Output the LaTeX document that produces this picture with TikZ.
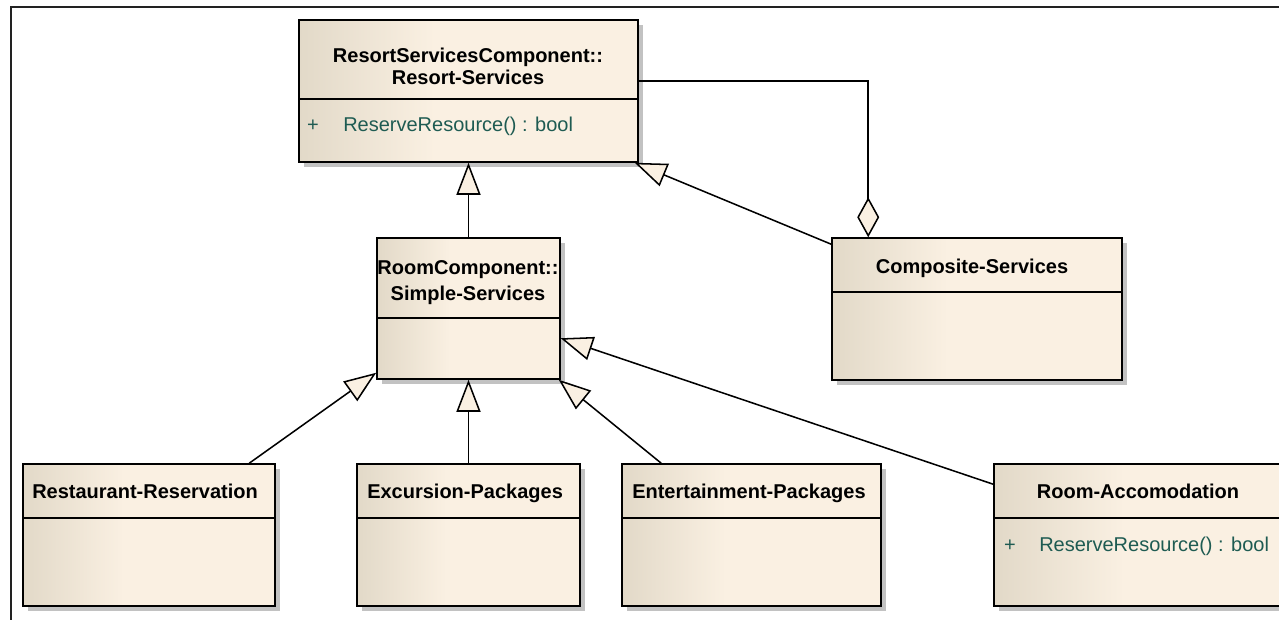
\documentclass[tikz,border=0pt]{standalone}
\usepackage{fontspec}
\setmainfont{Liberation Sans}
\usetikzlibrary{arrows.meta,calc,fit}

\definecolor{boxL}{HTML}{E2D9C8}
\definecolor{boxR}{HTML}{FAF0E2}
\definecolor{cream}{HTML}{FAF0E2}
\definecolor{shadowgray}{HTML}{C2C2C2}
\definecolor{optext}{HTML}{1E5B52}
\definecolor{framegray}{HTML}{222222}

% left-to-right fill of the class boxes: tan at the left edge, cream from 40% on
\pgfdeclarehorizontalshading{classfill}{100bp}{color(0bp)=(boxL); color(25bp)=(boxL); color(45bp)=(boxR); color(100bp)=(boxR)}

\tikzset{
  classframe/.style={draw=black, line width=1.15pt, inner sep=0pt},
  sepline/.style={draw=black, line width=1.2pt},
  title/.style={inner sep=0pt, font=\bfseries\fontsize{15}{16.5}\selectfont, text height=0.72em, text depth=0.2em},
  titletwo/.style={inner sep=0pt, align=center, font=\bfseries\fontsize{15}{#1}\selectfont},
  op/.style={inner sep=0pt, text=optext, font=\fontsize{15}{16.5}\selectfont, text height=0.72em, text depth=0.2em},
  conn/.style={draw=black, line width=1.15pt},
  gen/.style={conn, -{Triangle[length=24pt, width=18pt, fill=cream, line join=miter]}},
  agg/.style={conn, {Diamond[length=30pt, width=16.5pt, fill=cream]}-},
  frame/.style={draw=framegray, line width=0.9pt}
}

% class box: shadow, shaded body, framed node named #1 spanning (#2,#3)-(#4,#5)
\newcommand\classbox[5]{%
  \fill[shadowgray] ($(#2,#3)+(5,5)$) rectangle ($(#4,#5)+(5,5)$);
  \shade[shading=classfill] (#2,#3) rectangle (#4,#5);
  \node[classframe, fit={(#2,#3) (#4,#5)}] (#1) {};
}

\begin{document}
\begin{tikzpicture}[x=0.75pt, y=-0.75pt]
\useasboundingbox (0,0) rectangle (1279,620);

% diagram frame
\draw[frame] (11,640) -- (11,7) -- (1300,7);

% classes
\classbox{resort}{299}{20}{638}{162}
\classbox{simple}{377}{238}{560}{379}
\classbox{comp}{832}{238}{1122}{380}
\classbox{rest}{23}{464}{275}{606}
\classbox{exc}{357}{464}{580}{606}
\classbox{ent}{622}{464}{881}{606}
\classbox{room}{994}{464}{1320}{606}

% compartment separators
\draw[sepline] ($(resort.north west)+(0,80)$) -- ($(resort.north east)+(0,80)$);
\draw[sepline] ($(simple.north west)+(0,81)$) -- ($(simple.north east)+(0,81)$);
\draw[sepline] ($(comp.north west)+(0,55)$) -- ($(comp.north east)+(0,55)$);
\draw[sepline] ($(rest.north west)+(0,55)$) -- ($(rest.north east)+(0,55)$);
\draw[sepline] ($(exc.north west)+(0,55)$) -- ($(exc.north east)+(0,55)$);
\draw[sepline] ($(ent.north west)+(0,55)$) -- ($(ent.north east)+(0,55)$);
\draw[sepline] ($(room.north west)+(0,55)$) -- ($(room.north east)+(0,55)$);

% class names
\node[titletwo=16.5pt] (resortT) at (468,66) {ResortServicesComponent::\\Resort-Services};
\node[titletwo=19.5pt] (simpleT) at (468,283) {RoomComponent::\\Simple-Services};
\node[title] (compT) at (972,270) {Composite-Services};
\node[title, anchor=west] (restT) at (32,495) {Restaurant-Reservation};
\node[title, anchor=west] (excT) at (367,495) {Excursion-Packages};
\node[title, anchor=west] (entT) at (632,495) {Entertainment-Packages};
\node[title] (roomT) at (1138,495) {Room-Accomodation};

% operations
\node[op] (resortP) at (313,128) {+};
\node[op, anchor=west] (resortM) at (343,128) {ReserveResource() : bool};
\node[op] (roomP) at (1010,548) {+};
\node[op, anchor=west] (roomM) at (1039,548) {ReserveResource() : bool};

% generalizations
\draw[gen] (simple.north) -- (resort.south);
\draw[gen] ($(comp.north west)+(0,7)$) -- ($(resort.south east)+(-4,0)$);
\draw[gen] ($(rest.north west)+(227,0)$) -- ($(simple.south west)+(0,-7)$);
\draw[gen] (exc.north) -- (simple.south);
\draw[gen] ($(ent.north west)+(40,0)$) -- ($(simple.south east)+(-2,0)$);
\draw[gen] ($(room.north west)+(0,21)$) -- ($(simple.north east)+(0,101)$);

% aggregation
\draw[agg] ($(comp.north west)+(37,0)$) |- ($(resort.north east)+(0,62)$);
\end{tikzpicture}
\end{document}
